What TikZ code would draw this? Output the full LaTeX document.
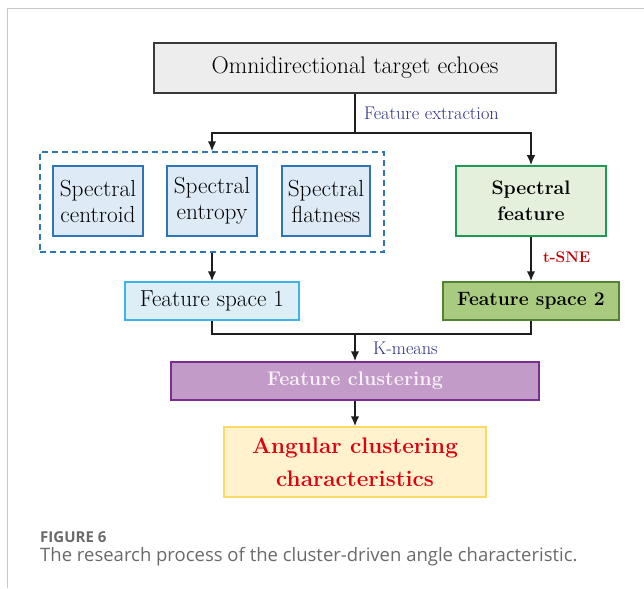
\documentclass[tikz,border=0pt]{standalone}
\usepackage{fontspec}
\newfontfamily\capfont{Open Sans}
\usetikzlibrary{arrows.meta}
\definecolor{frame}{HTML}{C8C8C8}
\definecolor{topfill}{HTML}{EDEDED}
\definecolor{topdraw}{HTML}{3A3A3A}
\definecolor{blued}{HTML}{2E75B6}
\definecolor{bluef}{HTML}{DEEBF7}
\definecolor{cyand}{HTML}{3CB4E5}
\definecolor{cyanf}{HTML}{DDEEF7}
\definecolor{greend}{HTML}{1E9A57}
\definecolor{greenf}{HTML}{E4EFDC}
\definecolor{olived}{HTML}{548235}
\definecolor{olivef}{HTML}{A9CB80}
\definecolor{purpd}{HTML}{7A2E8E}
\definecolor{purpf}{HTML}{C39BC8}
\definecolor{purpt}{HTML}{F8F2F8}
\definecolor{yeld}{HTML}{FFD966}
\definecolor{yelf}{HTML}{FFF2CC}
\definecolor{angred}{HTML}{E00010}
\definecolor{navy}{HTML}{2B2E8C}
\definecolor{tsne}{HTML}{C00000}
\definecolor{capgray}{HTML}{6A6A6A}
\definecolor{linek}{HTML}{1E1E1E}
\tikzset{
  box/.style={rectangle, inner sep=0pt, line width=1.5pt, align=center},
  arr/.style={draw=linek, line width=1.7pt, -{Latex[length=10pt,width=8.5pt]}},
  ln/.style={draw=linek, line width=1.7pt},
  lab/.style={anchor=west, inner sep=0pt, text=navy, font=\fontsize{18.3}{20}\selectfont},
}
\begin{document}
\begin{tikzpicture}[x=1pt,y=-1pt]
\useasboundingbox (0,0) rectangle (644,588);
% frame
\draw[frame, line width=1pt] (7,588) -- (7,9) -- (644,9);
% nodes
\node[box, draw=topdraw, fill=topfill, minimum width=402pt, minimum height=50pt,
      font=\fontsize{23.9}{26}\selectfont] (top) at (355,68) {Omnidirectional target echoes};
\node[box, draw=blued, dash pattern=on 6pt off 4pt, line width=1.2pt, minimum width=344pt, minimum height=100pt] (dash) at (212,202) {};
\node[box, draw=blued, fill=bluef, minimum width=90pt, minimum height=70pt,
      font=\fontsize{23.3}{26}\selectfont] (cen) at (98,201) {Spectral\\centroid};
\node[box, draw=blued, fill=bluef, minimum width=90pt, minimum height=70pt,
      font=\fontsize{23.3}{26}\selectfont] (ent) at (212,201) {Spectral\\entropy};
\node[box, draw=blued, fill=bluef, minimum width=88pt, minimum height=70pt,
      font=\fontsize{23.3}{26}\selectfont] (fla) at (326,201) {Spectral\\flatness};
\node[box, draw=greend, fill=greenf, minimum width=150pt, minimum height=70pt,
      font=\bfseries\fontsize{19.5}{26}\selectfont] (sf) at (531,201) {Spectral\\feature};
\node[box, draw=cyand, fill=cyanf, minimum width=174pt, minimum height=38pt,
      font=\fontsize{23.2}{24}\selectfont] (fs1) at (212,301) {Feature space 1};
\node[box, draw=olived, fill=olivef, minimum width=176pt, minimum height=38pt,
      font=\bfseries\fontsize{19.3}{24}\selectfont] (fs2) at (531,301) {Feature space 2};
\node[box, draw=purpd, fill=purpf, minimum width=368pt, minimum height=38pt, text=purpt,
      font=\bfseries\fontsize{19.8}{24}\selectfont] (fc) at (355,381) {Feature clustering};
\node[box, draw=yeld, fill=yelf, minimum width=262pt, minimum height=70pt, text=angred,
      font=\bfseries\fontsize{22.5}{33}\selectfont] (ang) at (355,462) {Angular clustering\\characteristics};
% labels
\node[lab] (fe) at (364,113) {Feature extraction};
\node[lab] (km) at (373,348) {K-means};
\node[lab, text=tsne, font=\bfseries\fontsize{15.4}{17}\selectfont] (ts) at (543,257) {t-SNE};
% connectors
\coordinate (split) at (355,133);
\coordinate (merge) at (355,334);
\draw[ln] (top.south) -- (split);
\draw[arr] (split) -| (dash.north);
\draw[arr] (split) -| (sf.north);
\draw[arr] (dash.south) -- (fs1.north);
\draw[arr] (sf.south) -- (fs2.north);
\draw[ln] (fs1.south) |- (merge);
\draw[ln] (fs2.south) |- (merge);
\draw[arr] (merge) -- (fc.north);
\draw[arr] (fc.south) -- (ang.north);
% caption
\node[anchor=west, inner sep=0pt, text=capgray, font=\capfont\bfseries\fontsize{15}{16}\selectfont] (c1) at (40,537) {FIGURE 6};
\node[anchor=west, inner sep=0pt, text=capgray, font=\capfont\fontsize{18.5}{20}\selectfont] (c2) at (40,557) {The research process of the cluster-driven angle characteristic.};
\end{tikzpicture}
\end{document}
